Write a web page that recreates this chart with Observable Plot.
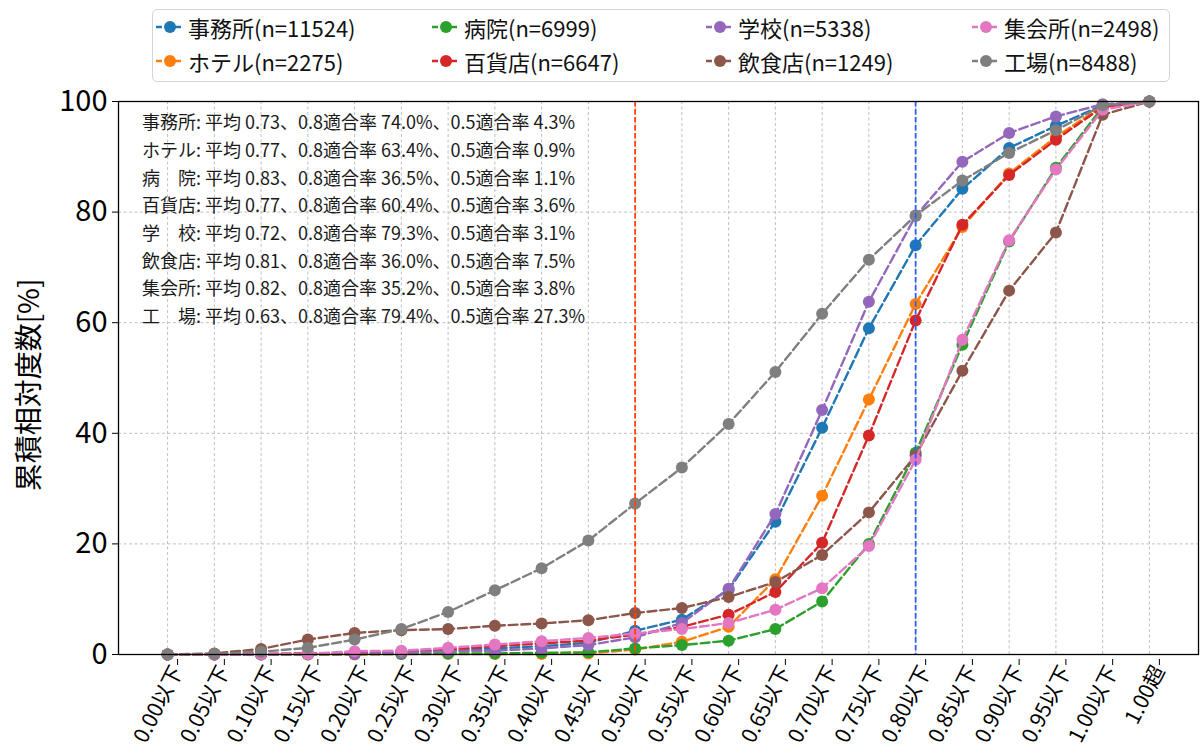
<!DOCTYPE html>
<html><head><meta charset="utf-8">
<script src="https://cdn.jsdelivr.net/npm/d3@7"></script>
<script src="https://cdn.jsdelivr.net/npm/@observablehq/plot@0.6"></script>
<style>
body{margin:0;background:#fff;font-family:"Noto Sans CJK JP","Noto Sans",sans-serif;}
#wrap{position:relative;width:1200px;height:753px;overflow:hidden;}
#legend{position:absolute;left:152px;top:9px;width:1018px;height:73px;border:1.5px solid #d4d4d4;border-radius:5px;background:#fff;box-sizing:border-box;}
.item{position:absolute;display:flex;align-items:center;font-size:22px;color:#111;white-space:nowrap;line-height:1;}
.item svg{margin-right:3px;}
</style></head><body><div id="wrap"><div id="chart"></div><div id="legend"></div></div>
<script>
const categories = ["0.00以下","0.05以下","0.10以下","0.15以下","0.20以下","0.25以下","0.30以下","0.35以下","0.40以下","0.45以下","0.50以下","0.55以下","0.60以下","0.65以下","0.70以下","0.75以下","0.80以下","0.85以下","0.90以下","0.95以下","1.00以下","1.00超"];
const seriesNames = ["事務所","ホテル","病院","百貨店","学校","飲食店","集会所","工場"];
const seriesN = [11524,2275,6999,6647,5338,1249,2498,8488];
const seriesColors = ["#1f77b4","#ff7f0e","#2ca02c","#d62728","#9467bd","#8c564b","#e377c2","#7f7f7f"];

const office     = [0,0,0.1,0.1,0.2,0.3,0.7,1.1,1.5,2.1,4.3,6.3,11.7,24.0,41.0,59.0,74.0,84.2,91.6,95.6,99.3,100];
const hotel      = [0,0,0,0,0,0.1,0.1,0.1,0.1,0.2,0.9,2.3,5.0,13.6,28.7,46.1,63.4,77.3,87.0,93.6,99.2,100];
const hospital   = [0,0,0,0,0.1,0.1,0.2,0.2,0.3,0.4,1.1,1.7,2.5,4.6,9.6,20.0,36.5,56.0,74.7,88.0,99.0,100];
const department = [0,0,0.1,0.2,0.3,0.5,0.9,1.5,2.0,2.5,3.6,5.0,7.2,11.3,20.2,39.6,60.4,77.7,86.7,93.1,99.0,100];
const school     = [0,0,0,0.1,0.1,0.3,0.6,0.7,1.1,1.7,3.1,5.7,11.9,25.4,44.2,63.8,79.3,89.1,94.3,97.3,99.5,100];
const restaurant = [0,0.2,1.0,2.7,3.9,4.4,4.6,5.2,5.6,6.2,7.5,8.4,10.4,13.1,18.0,25.7,36.0,51.3,65.8,76.3,97.6,100];
const hall       = [0,0,0.1,0.1,0.6,0.7,1.2,1.8,2.4,3.0,3.8,4.6,5.7,8.1,12.0,19.6,35.2,56.9,74.9,87.7,98.5,100];
const factory    = [0,0.1,0.5,1.2,2.7,4.6,7.7,11.6,15.6,20.6,27.3,33.8,41.7,51.1,61.6,71.4,79.4,85.7,90.7,94.8,99.3,100];
const seriesValues = [office,hotel,hospital,department,school,restaurant,hall,factory];

const yTicks = [0,20,40,60,80,100];
const thresholdIdx = [10,16];
const thresholdColors = ["#ff4500","#2d5eff"];

const annoLines = [
  "事務所: 平均 0.73、0.8適合率 74.0%、0.5適合率 4.3%",
  "ホテル: 平均 0.77、0.8適合率 63.4%、0.5適合率 0.9%",
  "病　院: 平均 0.83、0.8適合率 36.5%、0.5適合率 1.1%",
  "百貨店: 平均 0.77、0.8適合率 60.4%、0.5適合率 3.6%",
  "学　校: 平均 0.72、0.8適合率 79.3%、0.5適合率 3.1%",
  "飲食店: 平均 0.81、0.8適合率 36.0%、0.5適合率 7.5%",
  "集会所: 平均 0.82、0.8適合率 35.2%、0.5適合率 3.8%",
  "工　場: 平均 0.63、0.8適合率 79.4%、0.5適合率 27.3%"
];
const annoX = -0.55, annoTop = 96, annoStep = 5;

const font = '"Noto Sans CJK JP","Noto Sans",sans-serif';
const n = categories.length;
const pad = 0.05 * (n - 1);

const marks = [
  Plot.gridX(d3.range(n), {stroke:"#b0b0b0", strokeOpacity:1, strokeWidth:0.8, strokeDasharray:"3,2.5"}),
  Plot.gridY(yTicks, {stroke:"#b0b0b0", strokeOpacity:1, strokeWidth:0.8, strokeDasharray:"3,2.5"}),
  Plot.text(annoLines, {x: () => annoX, y: (d,i) => annoTop - annoStep*i, text: d => d, textAnchor:"start", lineAnchor:"middle", fontSize:18, fill:"#1a1a1a", ariaLabel:"anno"})
];
seriesValues.forEach((vals, k) => {
  const data = vals.map((v, i) => ({i, v}));
  marks.push(Plot.line(data, {x:"i", y:"v", stroke: seriesColors[k], strokeWidth:2.4, strokeDasharray:"8.9,3.8"}));
  marks.push(Plot.dot(data, {x:"i", y:"v", r:6, fill: seriesColors[k], stroke:"none"}));
});
thresholdIdx.forEach((t, k) => {
  marks.push(Plot.ruleX([t], {stroke: thresholdColors[k], strokeWidth:1.8, strokeDasharray:"5.5,2.5"}));
});
marks.push(Plot.frame({stroke:"#000", strokeWidth:1.3}));
marks.push(Plot.axisY(yTicks, {tickSize:6, tickPadding:5, fontSize:29, label:null}));
marks.push(Plot.axisX(d3.range(n), {tickSize:6, tickFormat: i => categories[i], tickRotate:-63, fontSize:21, tickPadding:2, dx:10, dy:5, label:null}));
marks.push(Plot.text(["累積相対度数[%]"], {frameAnchor:"left", dx:-88, dy:7, rotate:-90, textAnchor:"middle", fontSize:28, fill:"#000"}));

const chart = Plot.plot({
  width:1200, height:753,
  marginTop:101, marginBottom:99, marginLeft:118, marginRight:2,
  x:{type:"linear", domain:[-pad, n-1+pad]},
  y:{domain:[0,100]},
  style:{fontFamily:font, color:"#000", background:"#fff", overflow:"visible"},
  marks
});
document.getElementById("chart").appendChild(chart);

// white boxes behind annotation lines
const anno = chart.querySelector('g[aria-label="anno"]');
if (anno) {
  anno.querySelectorAll("text").forEach(t => {
    const b = t.getBBox();
    const r = document.createElementNS("http://www.w3.org/2000/svg","rect");
    const tr = t.getAttribute("transform");
    r.setAttribute("x", b.x - 4); r.setAttribute("y", b.y - 3);
    r.setAttribute("width", b.width + 8); r.setAttribute("height", b.height + 6);
    r.setAttribute("fill", "#fff");
    if (tr) r.setAttribute("transform", tr);
    anno.insertBefore(r, anno.firstChild);
  });
}

// legend
const legend = document.getElementById("legend");
const colX = [2, 278, 552, 818], rowY = [17, 51];
seriesNames.forEach((name, k) => {
  const col = Math.floor(k / 2), row = k % 2;
  const div = document.createElement("div");
  div.className = "item";
  div.style.left = colX[col] + "px";
  div.style.top = (rowY[row] - 12) + "px";
  div.style.height = "24px";
  div.innerHTML = `<svg width="30" height="16"><line x1="1" x2="29" y1="8" y2="8" stroke="${seriesColors[k]}" stroke-width="2.4" stroke-dasharray="6,3.5"/><circle cx="15" cy="8" r="6" fill="${seriesColors[k]}"/></svg><span>${name}(n=${seriesN[k]})</span>`;
  legend.appendChild(div);
});
</script></body></html>
